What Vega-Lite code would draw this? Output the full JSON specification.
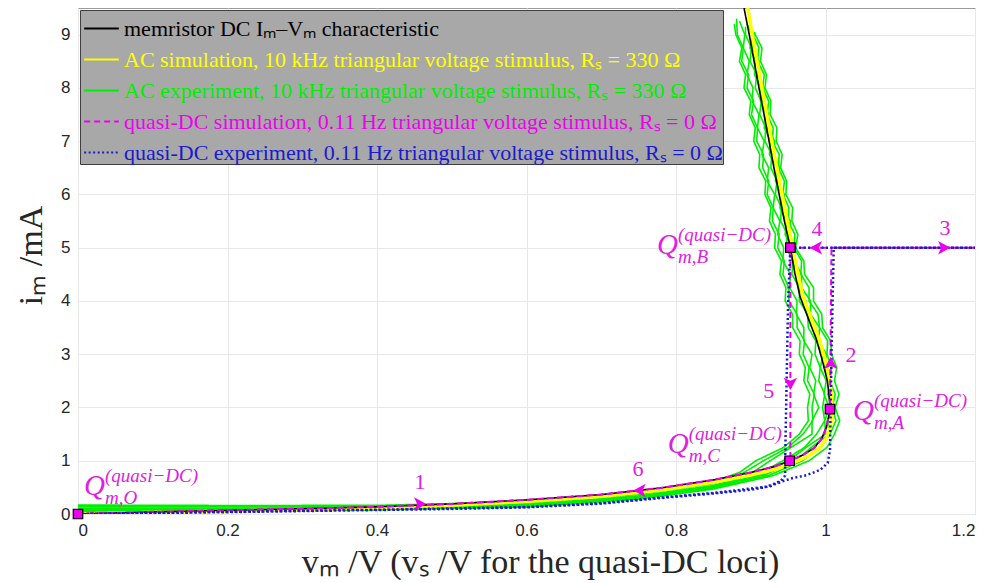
{
  "$schema": "https://vega.github.io/schema/vega-lite/v6.json",
  "width": 897,
  "height": 506,
  "autosize": {"type": "none"},
  "padding": {"left": 78, "top": 8, "right": 14, "bottom": 69},
  "background": "white",
  "datasets": {
    "green": [
      {"t":1,"x":0,"y":0.168},{"t":1,"x":0.2,"y":0.16},{"t":1,"x":0.4,"y":0.162},{"t":1,"x":0.6,"y":0.23},{"t":1,"x":0.75,"y":0.40},{"t":1,"x":0.85,"y":0.61},{"t":1,"x":0.885,"y":0.78},{"t":1,"x":0.907,"y":1.0},{"t":1,"x":0.944,"y":1.25},{"t":1,"x":0.965,"y":1.5},{"t":1,"x":0.977,"y":1.75},{"t":1,"x":0.976,"y":2.0},{"t":1,"x":0.979,"y":2.25},{"t":1,"x":0.971,"y":2.5},{"t":1,"x":0.973,"y":2.75},{"t":1,"x":0.965,"y":3.0},{"t":1,"x":0.966,"y":3.25},{"t":1,"x":0.956,"y":3.5},{"t":1,"x":0.956,"y":3.75},{"t":1,"x":0.946,"y":4.0},{"t":1,"x":0.947,"y":4.25},{"t":1,"x":0.939,"y":4.5},{"t":1,"x":0.941,"y":4.75},{"t":1,"x":0.932,"y":5.0},{"t":1,"x":0.933,"y":5.25},{"t":1,"x":0.925,"y":5.5},{"t":1,"x":0.927,"y":5.75},{"t":1,"x":0.919,"y":6.0},{"t":1,"x":0.920,"y":6.25},{"t":1,"x":0.911,"y":6.5},{"t":1,"x":0.912,"y":6.75},{"t":1,"x":0.904,"y":7.0},{"t":1,"x":0.906,"y":7.25},{"t":1,"x":0.898,"y":7.5},{"t":1,"x":0.900,"y":7.75},{"t":1,"x":0.891,"y":8.0},{"t":1,"x":0.893,"y":8.25},{"t":1,"x":0.885,"y":8.5},{"t":1,"x":0.888,"y":8.75},{"t":1,"x":0.880,"y":9.0},{"t":1,"x":0.878,"y":9.2},
      {"t":2,"x":0,"y":0.135},{"t":2,"x":0.2,"y":0.131},{"t":2,"x":0.4,"y":0.14},{"t":2,"x":0.6,"y":0.204},{"t":2,"x":0.75,"y":0.368},{"t":2,"x":0.85,"y":0.569},{"t":2,"x":0.9,"y":0.76},{"t":2,"x":0.926,"y":1.0},{"t":2,"x":0.954,"y":1.25},{"t":2,"x":0.982,"y":1.5},{"t":2,"x":0.982,"y":1.75},{"t":2,"x":0.991,"y":2.0},{"t":2,"x":0.984,"y":2.25},{"t":2,"x":0.987,"y":2.5},{"t":2,"x":0.979,"y":2.75},{"t":2,"x":0.982,"y":3.0},{"t":2,"x":0.971,"y":3.25},{"t":2,"x":0.971,"y":3.5},{"t":2,"x":0.961,"y":3.75},{"t":2,"x":0.962,"y":4.0},{"t":2,"x":0.952,"y":4.25},{"t":2,"x":0.953,"y":4.5},{"t":2,"x":0.943,"y":4.75},{"t":2,"x":0.944,"y":5.0},{"t":2,"x":0.936,"y":5.25},{"t":2,"x":0.939,"y":5.5},{"t":2,"x":0.930,"y":5.75},{"t":2,"x":0.932,"y":6.0},{"t":2,"x":0.922,"y":6.25},{"t":2,"x":0.924,"y":6.5},{"t":2,"x":0.915,"y":6.75},{"t":2,"x":0.918,"y":7.0},{"t":2,"x":0.909,"y":7.25},{"t":2,"x":0.911,"y":7.5},{"t":2,"x":0.902,"y":7.75},{"t":2,"x":0.903,"y":8.0},{"t":2,"x":0.895,"y":8.25},{"t":2,"x":0.898,"y":8.5},{"t":2,"x":0.890,"y":8.75},{"t":2,"x":0.892,"y":9.0},{"t":2,"x":0.885,"y":9.25},
      {"t":3,"x":0,"y":0.105},{"t":3,"x":0.2,"y":0.105},{"t":3,"x":0.4,"y":0.12},{"t":3,"x":0.6,"y":0.18},{"t":3,"x":0.75,"y":0.34},{"t":3,"x":0.85,"y":0.535},{"t":3,"x":0.91,"y":0.75},{"t":3,"x":0.943,"y":1.0},{"t":3,"x":0.972,"y":1.25},{"t":3,"x":0.988,"y":1.5},{"t":3,"x":0.999,"y":1.75},{"t":3,"x":0.996,"y":2.0},{"t":3,"x":0.999,"y":2.25},{"t":3,"x":0.991,"y":2.5},{"t":3,"x":0.993,"y":2.75},{"t":3,"x":0.986,"y":3.0},{"t":3,"x":0.987,"y":3.25},{"t":3,"x":0.977,"y":3.5},{"t":3,"x":0.976,"y":3.75},{"t":3,"x":0.965,"y":4.0},{"t":3,"x":0.965,"y":4.25},{"t":3,"x":0.955,"y":4.5},{"t":3,"x":0.957,"y":4.75},{"t":3,"x":0.947,"y":5.0},{"t":3,"x":0.949,"y":5.25},{"t":3,"x":0.940,"y":5.5},{"t":3,"x":0.941,"y":5.75},{"t":3,"x":0.933,"y":6.0},{"t":3,"x":0.935,"y":6.25},{"t":3,"x":0.927,"y":6.5},{"t":3,"x":0.928,"y":6.75},{"t":3,"x":0.919,"y":7.0},{"t":3,"x":0.920,"y":7.25},{"t":3,"x":0.912,"y":7.5},{"t":3,"x":0.914,"y":7.75},{"t":3,"x":0.906,"y":8.0},{"t":3,"x":0.908,"y":8.25},{"t":3,"x":0.899,"y":8.5},{"t":3,"x":0.901,"y":8.75},{"t":3,"x":0.893,"y":9.0},{"t":3,"x":0.893,"y":9.15},
      {"t":4,"x":0,"y":0.075},{"t":4,"x":0.2,"y":0.08},{"t":4,"x":0.4,"y":0.10},{"t":4,"x":0.6,"y":0.156},{"t":4,"x":0.75,"y":0.312},{"t":4,"x":0.85,"y":0.50},{"t":4,"x":0.92,"y":0.74},{"t":4,"x":0.96,"y":1.0},{"t":4,"x":0.981,"y":1.25},{"t":4,"x":1.005,"y":1.5},{"t":4,"x":1.003,"y":1.75},{"t":4,"x":1.010,"y":2.0},{"t":4,"x":1.003,"y":2.25},{"t":4,"x":1.007,"y":2.5},{"t":4,"x":0.998,"y":2.75},{"t":4,"x":1.001,"y":3.0},{"t":4,"x":0.991,"y":3.25},{"t":4,"x":0.992,"y":3.5},{"t":4,"x":0.980,"y":3.75},{"t":4,"x":0.980,"y":4.0},{"t":4,"x":0.968,"y":4.25},{"t":4,"x":0.968,"y":4.5},{"t":4,"x":0.958,"y":4.75},{"t":4,"x":0.959,"y":5.0},{"t":4,"x":0.951,"y":5.25},{"t":4,"x":0.953,"y":5.5},{"t":4,"x":0.943,"y":5.75},{"t":4,"x":0.945,"y":6.0},{"t":4,"x":0.936,"y":6.25},{"t":4,"x":0.939,"y":6.5},{"t":4,"x":0.930,"y":6.75},{"t":4,"x":0.932,"y":7.0},{"t":4,"x":0.922,"y":7.25},{"t":4,"x":0.924,"y":7.5},{"t":4,"x":0.916,"y":7.75},{"t":4,"x":0.918,"y":8.0},{"t":4,"x":0.909,"y":8.25},{"t":4,"x":0.911,"y":8.5},{"t":4,"x":0.902,"y":8.75},{"t":4,"x":0.904,"y":9.0},{"t":4,"x":0.899,"y":9.1},
      {"t":5,"x":0,"y":0.042},{"t":5,"x":0.2,"y":0.05},{"t":5,"x":0.4,"y":0.078},{"t":5,"x":0.6,"y":0.13},{"t":5,"x":0.75,"y":0.28},{"t":5,"x":0.85,"y":0.468},{"t":5,"x":0.93,"y":0.72},{"t":5,"x":0.978,"y":1.0},{"t":5,"x":1.002,"y":1.25},{"t":5,"x":1.012,"y":1.5},{"t":5,"x":1.019,"y":1.75},{"t":5,"x":1.013,"y":2.0},{"t":5,"x":1.018,"y":2.25},{"t":5,"x":1.012,"y":2.5},{"t":5,"x":1.015,"y":2.75},{"t":5,"x":1.008,"y":3.0},{"t":5,"x":1.007,"y":3.25},{"t":5,"x":0.996,"y":3.5},{"t":5,"x":0.995,"y":3.75},{"t":5,"x":0.984,"y":4.0},{"t":5,"x":0.984,"y":4.25},{"t":5,"x":0.972,"y":4.5},{"t":5,"x":0.971,"y":4.75},{"t":5,"x":0.960,"y":5.0},{"t":5,"x":0.963,"y":5.25},{"t":5,"x":0.955,"y":5.5},{"t":5,"x":0.956,"y":5.75},{"t":5,"x":0.947,"y":6.0},{"t":5,"x":0.948,"y":6.25},{"t":5,"x":0.940,"y":6.5},{"t":5,"x":0.942,"y":6.75},{"t":5,"x":0.934,"y":7.0},{"t":5,"x":0.935,"y":7.25},{"t":5,"x":0.926,"y":7.5},{"t":5,"x":0.927,"y":7.75},{"t":5,"x":0.919,"y":8.0},{"t":5,"x":0.921,"y":8.25},{"t":5,"x":0.913,"y":8.5},{"t":5,"x":0.915,"y":8.75},{"t":5,"x":0.906,"y":9.0},{"t":5,"x":0.905,"y":9.05},
      {"t":6,"x":0,"y":0.152},{"t":6,"x":0.2,"y":0.145},{"t":6,"x":0.4,"y":0.151},{"t":6,"x":0.6,"y":0.217},{"t":6,"x":0.75,"y":0.383},{"t":6,"x":0.85,"y":0.588},{"t":6,"x":0.89,"y":0.77},{"t":6,"x":0.917,"y":1.0},{"t":6,"x":0.950,"y":1.25},{"t":6,"x":0.970,"y":1.5},{"t":6,"x":0.983,"y":1.75},{"t":6,"x":0.982,"y":2.0},{"t":6,"x":0.985,"y":2.25},{"t":6,"x":0.976,"y":2.5},{"t":6,"x":0.978,"y":2.75},{"t":6,"x":0.970,"y":3.0},{"t":6,"x":0.972,"y":3.25},{"t":6,"x":0.962,"y":3.5},{"t":6,"x":0.962,"y":3.75},{"t":6,"x":0.951,"y":4.0},{"t":6,"x":0.951,"y":4.25},{"t":6,"x":0.943,"y":4.5},{"t":6,"x":0.945,"y":4.75},{"t":6,"x":0.936,"y":5.0},{"t":6,"x":0.938,"y":5.25},{"t":6,"x":0.929,"y":5.5},{"t":6,"x":0.930,"y":5.75},{"t":6,"x":0.922,"y":6.0},{"t":6,"x":0.924,"y":6.25},{"t":6,"x":0.916,"y":6.5},{"t":6,"x":0.917,"y":6.75},{"t":6,"x":0.908,"y":7.0},{"t":6,"x":0.909,"y":7.25},{"t":6,"x":0.901,"y":7.5},{"t":6,"x":0.904,"y":7.75},{"t":6,"x":0.895,"y":8.0},{"t":6,"x":0.897,"y":8.25},{"t":6,"x":0.888,"y":8.5},{"t":6,"x":0.890,"y":8.75},{"t":6,"x":0.882,"y":9.0},{"t":6,"x":0.881,"y":9.3},
      {"t":7,"x":0,"y":0.09},{"t":7,"x":0.2,"y":0.092},{"t":7,"x":0.4,"y":0.11},{"t":7,"x":0.6,"y":0.168},{"t":7,"x":0.75,"y":0.326},{"t":7,"x":0.85,"y":0.518},{"t":7,"x":0.915,"y":0.745},{"t":7,"x":0.951,"y":1.0},{"t":7,"x":0.974,"y":1.25},{"t":7,"x":1.000,"y":1.5},{"t":7,"x":0.999,"y":1.75},{"t":7,"x":1.005,"y":2.0},{"t":7,"x":0.998,"y":2.25},{"t":7,"x":1.001,"y":2.5},{"t":7,"x":0.993,"y":2.75},{"t":7,"x":0.997,"y":3.0},{"t":7,"x":0.987,"y":3.25},{"t":7,"x":0.987,"y":3.5},{"t":7,"x":0.975,"y":3.75},{"t":7,"x":0.974,"y":4.0},{"t":7,"x":0.964,"y":4.25},{"t":7,"x":0.965,"y":4.5},{"t":7,"x":0.955,"y":4.75},{"t":7,"x":0.955,"y":5.0},{"t":7,"x":0.946,"y":5.25},{"t":7,"x":0.948,"y":5.5},{"t":7,"x":0.939,"y":5.75},{"t":7,"x":0.942,"y":6.0},{"t":7,"x":0.933,"y":6.25},{"t":7,"x":0.935,"y":6.5},{"t":7,"x":0.925,"y":6.75},{"t":7,"x":0.927,"y":7.0},{"t":7,"x":0.918,"y":7.25},{"t":7,"x":0.921,"y":7.5},{"t":7,"x":0.913,"y":7.75},{"t":7,"x":0.914,"y":8.0},{"t":7,"x":0.905,"y":8.25},{"t":7,"x":0.907,"y":8.5},{"t":7,"x":0.899,"y":8.75},{"t":7,"x":0.902,"y":9.0},{"t":7,"x":0.895,"y":9.2},
      {"t":8,"x":0,"y":0.0585},{"t":8,"x":0.2,"y":0.065},{"t":8,"x":0.4,"y":0.089},{"t":8,"x":0.6,"y":0.143},{"t":8,"x":0.75,"y":0.297},{"t":8,"x":0.85,"y":0.482},{"t":8,"x":0.925,"y":0.73},{"t":8,"x":0.969,"y":1.0},{"t":8,"x":0.994,"y":1.25},{"t":8,"x":1.006,"y":1.5},{"t":8,"x":1.014,"y":1.75},{"t":8,"x":1.009,"y":2.0},{"t":8,"x":1.013,"y":2.25},{"t":8,"x":1.006,"y":2.5},{"t":8,"x":1.008,"y":2.75},{"t":8,"x":1.002,"y":3.0},{"t":8,"x":1.003,"y":3.25},{"t":8,"x":0.992,"y":3.5},{"t":8,"x":0.990,"y":3.75},{"t":8,"x":0.978,"y":4.0},{"t":8,"x":0.978,"y":4.25},{"t":8,"x":0.967,"y":4.5},{"t":8,"x":0.968,"y":4.75},{"t":8,"x":0.958,"y":5.0},{"t":8,"x":0.959,"y":5.25},{"t":8,"x":0.950,"y":5.5},{"t":8,"x":0.951,"y":5.75},{"t":8,"x":0.943,"y":6.0},{"t":8,"x":0.945,"y":6.25},{"t":8,"x":0.937,"y":6.5},{"t":8,"x":0.938,"y":6.75},{"t":8,"x":0.929,"y":7.0},{"t":8,"x":0.930,"y":7.25},{"t":8,"x":0.922,"y":7.5},{"t":8,"x":0.924,"y":7.75},{"t":8,"x":0.916,"y":8.0},{"t":8,"x":0.918,"y":8.25},{"t":8,"x":0.909,"y":8.5},{"t":8,"x":0.911,"y":8.75},{"t":8,"x":0.903,"y":9.0},{"t":8,"x":0.902,"y":9.1}
    ],
    "acsim": [
      {"x":0,"y":0},{"x":0.1,"y":0.03},{"x":0.2,"y":0.055},{"x":0.3,"y":0.082},{"x":0.4,"y":0.115},{"x":0.5,"y":0.165},{"x":0.6,"y":0.235},{"x":0.7,"y":0.33},{"x":0.78,"y":0.45},{"x":0.85,"y":0.595},{"x":0.9,"y":0.73},{"x":0.935,"y":0.85},{"x":0.958,"y":0.97},{"x":0.977,"y":1.09},{"x":0.992,"y":1.24},{"x":1.001,"y":1.42},{"x":1.006,"y":1.62},{"x":1.009,"y":1.82},{"x":1.009,"y":1.97},{"x":1.008,"y":2.2},{"x":1.006,"y":2.5},{"x":1.0,"y":2.87},{"x":0.992,"y":3.27},{"x":0.981,"y":3.67},{"x":0.97,"y":4.08},{"x":0.963,"y":4.52},{"x":0.956,"y":5.0},{"x":0.949,"y":5.5},{"x":0.942,"y":6.0},{"x":0.935,"y":6.5},{"x":0.928,"y":7.0},{"x":0.915,"y":8.0},{"x":0.902,"y":9.0},{"x":0.896,"y":9.5}
    ],
    "dc": [
      {"x":0,"y":0},{"x":0.1,"y":0.04},{"x":0.2,"y":0.07},{"x":0.3,"y":0.1},{"x":0.4,"y":0.135},{"x":0.5,"y":0.19},{"x":0.6,"y":0.265},{"x":0.7,"y":0.365},{"x":0.78,"y":0.49},{"x":0.85,"y":0.64},{"x":0.9,"y":0.78},{"x":0.93,"y":0.885},{"x":0.952,"y":1.0},{"x":0.97,"y":1.11},{"x":0.985,"y":1.24},{"x":0.995,"y":1.42},{"x":1.001,"y":1.62},{"x":1.004,"y":1.82},{"x":1.006,"y":1.97},{"x":1.005,"y":2.2},{"x":1.0025,"y":2.5},{"x":0.996,"y":2.87},{"x":0.988,"y":3.27},{"x":0.977,"y":3.67},{"x":0.966,"y":4.08},{"x":0.959,"y":4.52},{"x":0.953,"y":5.0},{"x":0.945,"y":5.5},{"x":0.938,"y":6.0},{"x":0.931,"y":6.5},{"x":0.9245,"y":7.0},{"x":0.911,"y":8.0},{"x":0.898,"y":9.0},{"x":0.891,"y":9.5}
    ],
    "qsim": [
      {"x":0,"y":0},{"x":0.1,"y":0.04},{"x":0.2,"y":0.07},{"x":0.3,"y":0.1},{"x":0.4,"y":0.135},{"x":0.5,"y":0.19},{"x":0.6,"y":0.265},{"x":0.7,"y":0.365},{"x":0.78,"y":0.49},{"x":0.85,"y":0.64},{"x":0.9,"y":0.78},{"x":0.93,"y":0.885},{"x":0.952,"y":1.0},{"x":0.97,"y":1.11},{"x":0.985,"y":1.24},{"x":0.995,"y":1.42},{"x":1.001,"y":1.62},{"x":1.004,"y":1.82},{"x":1.006,"y":1.97},{"x":1.008,"y":5.0},{"x":1.2,"y":5.0},{"x":0.953,"y":5.0},{"x":0.953,"y":1.0},{"x":0.93,"y":0.885},{"x":0.9,"y":0.78},{"x":0.85,"y":0.64},{"x":0.78,"y":0.49},{"x":0.7,"y":0.365},{"x":0.6,"y":0.265},{"x":0.5,"y":0.19},{"x":0.4,"y":0.135},{"x":0.3,"y":0.1},{"x":0.2,"y":0.07},{"x":0.1,"y":0.04},{"x":0,"y":0}
    ],
    "qexp": [
      {"x":0,"y":0},{"x":0.2,"y":0.035},{"x":0.4,"y":0.075},{"x":0.5,"y":0.095},{"x":0.6,"y":0.125},{"x":0.7,"y":0.195},{"x":0.78,"y":0.3},{"x":0.85,"y":0.385},{"x":0.9,"y":0.455},{"x":0.926,"y":0.52},{"x":0.94,"y":0.6},{"x":0.955,"y":0.67},{"x":0.975,"y":0.73},{"x":0.993,"y":0.83},{"x":1.003,"y":0.96},{"x":1.006,"y":1.2},{"x":1.008,"y":3.0},{"x":1.011,"y":5.0},{"x":1.2,"y":5.0},{"x":0.953,"y":5.0},{"x":0.95,"y":4.0},{"x":0.948,"y":2.5},{"x":0.946,"y":1.0},{"x":0.946,"y":0.72},{"x":0.94,"y":0.62},{"x":0.93,"y":0.56},{"x":0.92,"y":0.51},{"x":0.85,"y":0.395},{"x":0.78,"y":0.31},{"x":0.7,"y":0.205},{"x":0.6,"y":0.13},{"x":0.4,"y":0.08},{"x":0.2,"y":0.04},{"x":0,"y":0}
    ],
    "markers": [
      {"x":0,"y":0},{"x":0.952,"y":1.0},{"x":1.006,"y":1.97},{"x":0.953,"y":5.0}
    ],
    "arrows": [
      {"x":0.466,"y":0.19,"d":"right"},{"x":1.007,"y":2.95,"d":"up"},{"x":1.167,"y":5.0,"d":"right"},{"x":0.979,"y":5.0,"d":"left"},{"x":0.953,"y":2.33,"d":"down"},{"x":0.743,"y":0.44,"d":"left"}
    ],
    "nums": [
      {"x":0.4575,"y":0.6,"n":"1"},{"x":1.034,"y":2.99,"n":"2"},{"x":1.16,"y":5.37,"n":"3"},{"x":0.9886,"y":5.35,"n":"4"},{"x":0.924,"y":2.31,"n":"5"},{"x":0.749,"y":0.85,"n":"6"}
    ],
    "qlab": [
      {"x":0.008,"y":0.357,"sub":"m,O"},{"x":0.7746,"y":4.88,"sub":"m,B"},{"x":1.0368,"y":1.765,"sub":"m,A"},{"x":0.789,"y":1.145,"sub":"m,C"}
    ]
  },
  "encoding": {
    "x": {"field": "x", "type": "quantitative",
      "scale": {"domain": [0, 1.2], "nice": false, "zero": false},
      "axis": {"values": [0, 0.2, 0.4, 0.6, 0.8, 1, 1.2], "format": "~g",
        "title": "vₘ /V (vₛ /V for the quasi-DC loci)",
        "titleX": 462, "titleY": 58, "titleAlign": "center", "titleBaseline": "alphabetic"}},
    "y": {"field": "y", "type": "quantitative",
      "scale": {"domain": [0, 9.5], "nice": false, "zero": false},
      "axis": {"values": [0, 1, 2, 3, 4, 5, 6, 7, 8, 9], "format": "d",
        "title": "iₘ /mA",
        "titleX": -37, "titleY": 247, "titleAngle": -90, "titleAlign": "center", "titleBaseline": "alphabetic"}}
  },
  "layer": [
    {
      "data": {"name": "green"},
      "mark": {"type": "line", "strokeWidth": 1.6, "clip": true},
      "encoding": {
        "detail": {"field": "t", "type": "nominal"},
        "order": {"value": null},
        "color": {"datum": "AC experiment, 10 kHz triangular voltage stimulus, Rₛ = 330 Ω",
          "scale": {"domain": ["memristor DC Iₘ–Vₘ characteristic", "AC simulation, 10 kHz triangular voltage stimulus, Rₛ = 330 Ω", "AC experiment, 10 kHz triangular voltage stimulus, Rₛ = 330 Ω", "quasi-DC simulation, 0.11 Hz triangular voltage stimulus, Rₛ = 0 Ω", "quasi-DC experiment, 0.11 Hz triangular voltage stimulus, Rₛ = 0 Ω"],
            "range": ["#000000", "#ffff00", "#00ee00", "#ee00ee", "#1a1ad0"]},
          "legend": {"title": null, "encode": {"labels": {"update": {"fill": {"scale": "color", "field": "value"}}}}}},
        "strokeDash": {"datum": "AC experiment, 10 kHz triangular voltage stimulus, Rₛ = 330 Ω",
          "scale": {"domain": ["memristor DC Iₘ–Vₘ characteristic", "AC simulation, 10 kHz triangular voltage stimulus, Rₛ = 330 Ω", "AC experiment, 10 kHz triangular voltage stimulus, Rₛ = 330 Ω", "quasi-DC simulation, 0.11 Hz triangular voltage stimulus, Rₛ = 0 Ω", "quasi-DC experiment, 0.11 Hz triangular voltage stimulus, Rₛ = 0 Ω"],
            "range": [[1, 0], [1, 0], [1, 0], [6, 4], [2, 2.5]]},
          "legend": {"title": null}}
      }
    },
    {
      "data": {"name": "acsim"},
      "mark": {"type": "line", "strokeWidth": 3.5, "clip": true},
      "encoding": {
        "order": {"value": null},
        "color": {"datum": "AC simulation, 10 kHz triangular voltage stimulus, Rₛ = 330 Ω"},
        "strokeDash": {"datum": "AC simulation, 10 kHz triangular voltage stimulus, Rₛ = 330 Ω"}
      }
    },
    {
      "data": {"name": "dc"},
      "mark": {"type": "line", "strokeWidth": 1.6, "clip": true},
      "encoding": {
        "order": {"value": null},
        "color": {"datum": "memristor DC Iₘ–Vₘ characteristic"},
        "strokeDash": {"datum": "memristor DC Iₘ–Vₘ characteristic"}
      }
    },
    {
      "data": {"name": "qsim"},
      "mark": {"type": "line", "strokeWidth": 2, "clip": true},
      "encoding": {
        "order": {"value": null},
        "color": {"datum": "quasi-DC simulation, 0.11 Hz triangular voltage stimulus, Rₛ = 0 Ω"},
        "strokeDash": {"datum": "quasi-DC simulation, 0.11 Hz triangular voltage stimulus, Rₛ = 0 Ω"}
      }
    },
    {
      "data": {"name": "qexp"},
      "mark": {"type": "line", "strokeWidth": 2.5, "clip": true},
      "encoding": {
        "order": {"value": null},
        "color": {"datum": "quasi-DC experiment, 0.11 Hz triangular voltage stimulus, Rₛ = 0 Ω"},
        "strokeDash": {"datum": "quasi-DC experiment, 0.11 Hz triangular voltage stimulus, Rₛ = 0 Ω"}
      }
    },
    {
      "data": {"name": "arrows"},
      "mark": {"type": "point", "filled": true, "size": 600, "fill": "#ee00ee", "opacity": 1, "strokeWidth": 0},
      "encoding": {
        "shape": {"field": "d", "type": "nominal", "legend": null,
          "scale": {"domain": ["right", "left", "up", "down"],
            "range": ["M0,0 L-1,-0.55 L-0.75,0 L-1,0.55 Z", "M0,0 L1,-0.55 L0.75,0 L1,0.55 Z", "M0,0 L-0.55,1 L0,0.75 L0.55,1 Z", "M0,0 L-0.55,-1 L0,-0.75 L0.55,-1 Z"]}}
      }
    },
    {
      "data": {"name": "markers"},
      "mark": {"type": "point", "shape": "square", "filled": true, "size": 90, "fill": "#ee00ee", "stroke": "#000000", "strokeWidth": 1.2, "opacity": 1},
      "encoding": {}
    },
    {
      "data": {"name": "nums"},
      "mark": {"type": "text", "font": "Liberation Serif", "fontSize": 22, "color": "#e020e0", "align": "center", "baseline": "middle"},
      "encoding": {"text": {"field": "n"}}
    },
    {
      "data": {"name": "qlab"},
      "mark": {"type": "text", "text": "Q", "font": "Liberation Serif", "fontStyle": "italic", "fontSize": 29, "color": "#e020e0", "align": "left", "baseline": "alphabetic"},
      "encoding": {}
    },
    {
      "data": {"name": "qlab"},
      "mark": {"type": "text", "text": "(quasi−DC)", "font": "Liberation Serif", "fontStyle": "italic", "fontSize": 19, "color": "#e020e0", "align": "left", "baseline": "alphabetic", "dx": 21, "dy": -13},
      "encoding": {}
    },
    {
      "data": {"name": "qlab"},
      "mark": {"type": "text", "font": "Liberation Serif", "fontStyle": "italic", "fontSize": 19, "color": "#e020e0", "align": "left", "baseline": "alphabetic", "dx": 21, "dy": 9},
      "encoding": {"text": {"field": "sub"}}
    }
  ],
  "config": {
    "view": {"stroke": "#9a9a9a", "strokeWidth": 1},
    "axis": {
      "grid": true, "gridColor": "#e8e8e8", "gridWidth": 1,
      "domain": false, "ticks": false, "tickSize": 0,
      "labelFont": "Liberation Sans", "labelFontSize": 17, "labelColor": "#262626", "labelPadding": 8,
      "titleFont": "Liberation Serif", "titleFontSize": 34, "titleFontWeight": "normal", "titleColor": "#262626"
    },
    "legend": {
      "orient": "top-left", "offset": 2, "padding": 0,
      "fillColor": "#a8a8a8", "strokeColor": "#404040",
      "symbolType": "stroke", "symbolSize": 1200, "symbolStrokeWidth": 2, "symbolOffset": 3,
      "labelFont": "Liberation Serif", "labelFontSize": 22, "labelLimit": 900, "labelOffset": 4,
      "rowPadding": 1
    }
  }
}
